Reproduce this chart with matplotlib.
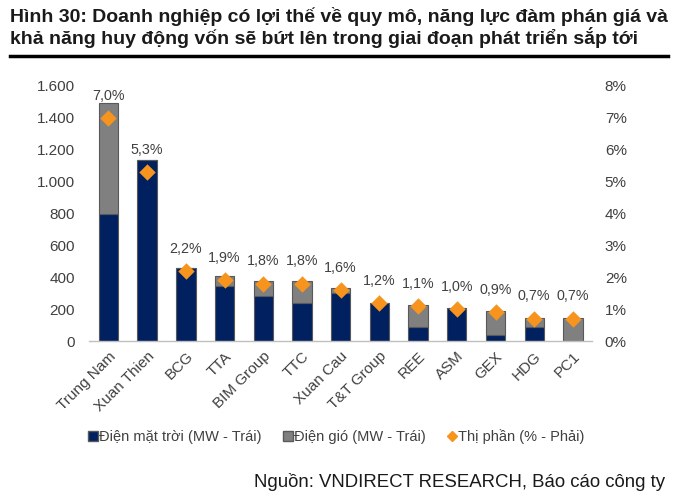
import matplotlib
matplotlib.use("Agg")
import matplotlib.pyplot as plt
from matplotlib.lines import Line2D
import numpy as np

plt.rcParams['font.family'] = ['Liberation Sans', 'DejaVu Sans']

companies = ["Trung Nam", "Xuan Thien", "BCG", "TTA", "BIM Group", "TTC",
             "Xuan Cau", "T&T Group", "REE", "ASM", "GEX", "HDG", "PC1"]
solar = [795, 1135, 455, 347, 282, 236, 300, 240, 90, 209, 38, 90, 0]
wind = [700, 0, 0, 61, 94, 140, 30, 0, 134, 0, 150, 54, 144]
share = [7.0, 5.3, 2.2, 1.9, 1.8, 1.8, 1.6, 1.2, 1.1, 1.0, 0.9, 0.7, 0.7]
share_labels = ["7,0%", "5,3%", "2,2%", "1,9%", "1,8%", "1,8%", "1,6%",
                "1,2%", "1,1%", "1,0%", "0,9%", "0,7%", "0,7%"]
left_ticks = [0, 200, 400, 600, 800, 1000, 1200, 1400, 1600]
left_tick_labels = ["0", "200", "400", "600", "800", "1.000", "1.200", "1.400", "1.600"]
right_ticks = [0, 1, 2, 3, 4, 5, 6, 7, 8]
right_tick_labels = ["0%", "1%", "2%", "3%", "4%", "5%", "6%", "7%", "8%"]

NAVY = "#002060"
GRAY = "#808080"
EDGE = "#595959"
ORANGE = "#F7941D"
TXT = "#404040"

fig = plt.figure(figsize=(6.8, 4.94), dpi=100)
ax = fig.add_axes([0.131, 0.3097, 0.74, 0.5163])
x = np.arange(len(companies))
ax.bar(x, solar, width=0.5, color=NAVY, edgecolor=EDGE, linewidth=0.8, zorder=2)
ax.bar(x, wind, width=0.5, bottom=solar, color=GRAY, edgecolor=EDGE, linewidth=0.8, zorder=2)
ax.set_ylim(0, 1600)
ax.set_xlim(-0.5, len(companies) - 0.5)
ax.set_yticks(left_ticks)
ax.set_yticklabels(left_tick_labels, fontsize=11, color=TXT)
ax.set_xticks(x)
ax.set_xticklabels(companies, rotation=45, ha="right", rotation_mode="anchor",
                   fontsize=11, color=TXT)
ax.tick_params(axis="y", length=0, pad=10)
ax.tick_params(axis="x", length=0, pad=6)
for s in ["top", "right", "left"]:
    ax.spines[s].set_visible(False)
ax.spines["bottom"].set_color("#BFBFBF")
ax.spines["bottom"].set_linewidth(1.0)

ax2 = ax.twinx()
ax2.set_ylim(0, 8)
ax2.scatter(x, share, marker="D", s=70, color=ORANGE, zorder=3, linewidths=0)
ax2.set_yticks(right_ticks)
ax2.set_yticklabels(right_tick_labels, fontsize=11, color=TXT)
ax2.tick_params(axis="y", length=0, pad=9)
for s in ["top", "right", "left", "bottom"]:
    ax2.spines[s].set_visible(False)

for xi, v, lab in zip(x, share, share_labels):
    ax2.annotate(lab, (xi, v), xytext=(0, 16), textcoords="offset points",
                 ha="center", va="center", fontsize=10.3, color=TXT)

handles = [
    Line2D([], [], marker="s", linestyle="none", markersize=6.5, markerfacecolor=NAVY, markeredgecolor=EDGE),
    Line2D([], [], marker="s", linestyle="none", markersize=6.5, markerfacecolor=GRAY, markeredgecolor=EDGE),
    Line2D([], [], marker="D", linestyle="none", markersize=5.5, markerfacecolor=ORANGE, markeredgecolor=ORANGE),
]
labels = ["Điện mặt trời (MW - Trái)", "Điện gió (MW - Trái)", "Thị phần (% - Phải)"]
fig.legend(handles, labels, loc="center", bbox_to_anchor=(0.495, 1 - 437 / 494), ncol=3,
           frameon=False, fontsize=10.5, handlelength=0.6, handletextpad=0.1,
           columnspacing=1.5, labelcolor=TXT)

fig.text(0.015, 1 - 16 / 494, "Hình 30: Doanh nghiệp có lợi thế về quy mô, năng lực đàm phán giá và",
         fontsize=14.0, fontweight="bold", color="#1a1a1a", va="center", ha="left")
fig.text(0.015, 1 - 37 / 494, "khả năng huy động vốn sẽ bứt lên trong giai đoạn phát triển sắp tới",
         fontsize=14.0, fontweight="bold", color="#1a1a1a", va="center", ha="left")
fig.add_artist(Line2D([0.015, 0.983], [1 - 56 / 494, 1 - 56 / 494], color="black", linewidth=2.5,
                      transform=fig.transFigure))
fig.text(0.978, 1 - 482 / 494, "Nguồn: VNDIRECT RESEARCH, Báo cáo công ty",
         fontsize=13.4, color="#1a1a1a", va="center", ha="right")

fig.savefig("out.png", dpi=100)
